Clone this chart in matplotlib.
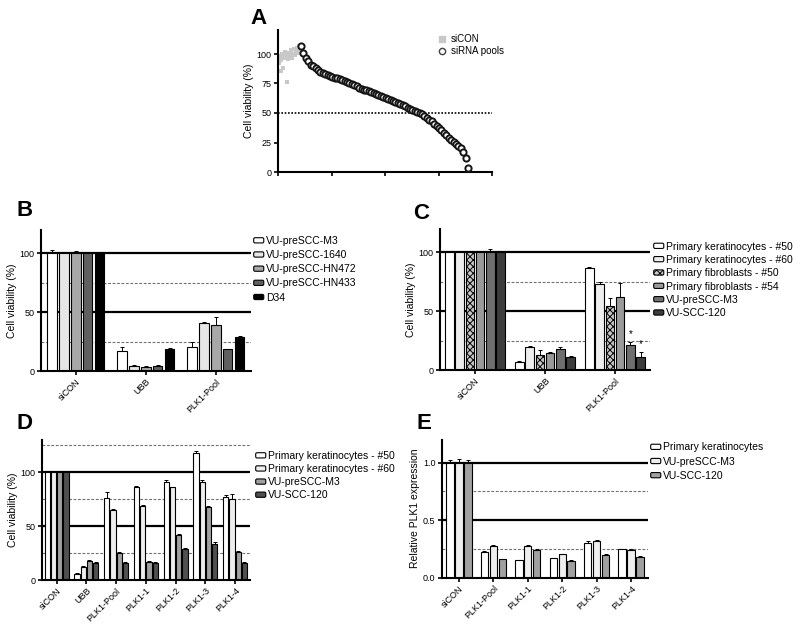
import numpy as np
import matplotlib
matplotlib.use("Agg")
import matplotlib.pyplot as plt
from matplotlib.patches import FancyBboxPatch, Patch
from matplotlib.lines import Line2D
from matplotlib.legend_handler import HandlerPatch

plt.rcParams['font.family'] = ['Liberation Sans', 'DejaVu Sans']
plt.rcParams['hatch.linewidth'] = 0.7

# ---------------- Panel A data ----------------
sicon_a_x = [0.8, 1.2, 1.6, 2.0, 2.4, 2.9, 3.3, 3.7, 4.1, 4.5, 5.0, 5.4, 5.8, 6.2, 6.6, 7.0, 7.4, 7.9, 8.3, 8.7, 9.1, 1.3, 0.5]
sicon_a_y = [98, 95, 100, 88, 97, 102, 99, 76, 96, 101, 98, 103, 97, 100, 104, 99, 102, 105, 101, 107, 103, 86, 92]
sirna_a_y = [107, 101, 97, 94, 91, 89.5, 88, 86.5, 85, 84,
             83, 82.3, 81.5, 80.6, 80, 79.3, 78.6, 78, 77.2, 76.3,
             75.3, 74.4, 73.5, 72.5, 71.4, 70.6, 69.9, 69.2, 68.5, 67.8,
             67, 66.2, 65.5, 64.7, 63.9, 63, 62.2, 61.4, 60.5, 59.7,
             58.8, 57.9, 56.8, 55.6, 54.4, 53.2, 52.3, 51.5, 50.8, 50,
             48.8, 47.4, 45.8, 44.3, 42.8, 41, 39, 37, 35.2, 33.3,
             31, 29, 27, 25.7, 24, 22, 20, 17, 12, 3.6]
sirna_a_start = 9.5

# ---------------- Panel B data ----------------
b_groups = ['siCON', 'UBB', 'PLK1-Pool']
b_series = ['VU-preSCC-M3', 'VU-preSCC-1640', 'VU-preSCC-HN472', 'VU-preSCC-HN433', 'D34']
b_vals = [[100, 17, 20.7], [100, 4.2, 40.5], [100, 3.4, 38.8], [100, 4.5, 18.4], [100, 18.4, 29]]
b_errs = [[3, 3, 4], [1, 0.5, 1], [2, 0.5, 7], [1, 0.5, 0.6], [0.5, 0.8, 0.6]]
b_colors = ['white', '#e6e6e6', '#a8a8a8', '#606060', 'black']

# ---------------- Panel C data ----------------
c_groups = ['siCON', 'UBB', 'PLK1-Pool']
c_series = ['Primary keratinocytes - #50', 'Primary keratinocytes - #60', 'Primary fibroblasts - #50',
            'Primary fibroblasts - #54', 'VU-preSCC-M3', 'VU-SCC-120']
c_vals = [[100, 7, 86.4], [100, 19.3, 72.8], [100, 12.7, 54.7], [100, 14.7, 62.3], [100, 17.6, 21.2], [100, 10.8, 11.3]]
c_errs = [[0.5, 1, 1], [0.5, 1.2, 2], [0.5, 4.3, 6.3], [1, 0.6, 11.4], [2.5, 2.2, 2.8], [0.5, 1.4, 3.7]]
c_colors = ['white', '#eeeeee', '#c8c8c8', '#9a9a9a', '#6e6e6e', '#3c3c3c']
c_hatches = [None, None, 'xxxxx', None, None, None]
c_stars = [(4, 2, 30.5), (5, 2, 22)]

# ---------------- Panel D data ----------------
d_groups = ['siCON', 'UBB', 'PLK1-Pool', 'PLK1-1', 'PLK1-2', 'PLK1-3', 'PLK1-4']
d_series = ['Primary keratinocytes - #50', 'Primary keratinocytes - #60', 'VU-preSCC-M3', 'VU-SCC-120']
d_vals = [[100, 5.6, 75.9, 86, 91, 117.6, 77.4],
          [100, 12.4, 65, 68.7, 86, 91.3, 75],
          [100, 17.6, 25.4, 17, 41.8, 67.5, 26.3],
          [100, 16, 15.5, 15.5, 28.8, 33.4, 16]]
d_errs = [[0.5, 0.8, 5.5, 1.2, 1.8, 2.5, 1.5],
          [0.5, 0.5, 1.2, 1, 0.6, 1.5, 4.5],
          [0.5, 1, 1, 1, 1, 1.2, 1],
          [0.5, 0.8, 1, 1, 1, 2.2, 0.6]]
d_colors = ['white', '#eeeeee', '#a0a0a0', '#505050']

# ---------------- Panel E data ----------------
e_groups = ['siCON', 'PLK1-Pool', 'PLK1-1', 'PLK1-2', 'PLK1-3', 'PLK1-4']
e_series = ['Primary keratinocytes', 'VU-preSCC-M3', 'VU-SCC-120']
e_vals = [[1.0, 0.226, 0.15, 0.168, 0.304, 0.246],
          [1.0, 0.278, 0.278, 0.205, 0.316, 0.243],
          [1.0, 0.16, 0.245, 0.145, 0.197, 0.183]]
e_errs = [[0.02, 0.01, 0.005, 0.005, 0.015, 0.005],
          [0.03, 0.005, 0.005, 0.005, 0.01, 0.005],
          [0.02, 0.005, 0.005, 0.005, 0.005, 0.005]]
e_colors = ['white', '#eeeeee', '#a0a0a0']


class RoundHandler(HandlerPatch):
    def create_artists(self, legend, orig_handle, xdescent, ydescent, width, height, fontsize, trans):
        p = FancyBboxPatch((-xdescent + 0.5, -ydescent + 0.5), width - 1, height - 1,
                           boxstyle="round,pad=0,rounding_size=1.0",
                           facecolor=orig_handle.get_facecolor(), edgecolor='black',
                           lw=0.8, hatch=orig_handle.get_hatch())
        p.set_transform(trans)
        return [p]


TICK_FS = 6.5
LAB_FS = 7.5
LEG_FS = 7.5
fig = plt.figure(figsize=(8, 6.31), dpi=100)
W, H = 800.0, 631.0


def make_ax(left, right, bottom, top):
    ax = fig.add_axes([left / W, 1 - bottom / H, (right - left) / W, (bottom - top) / H])
    for s in ['top', 'right']:
        ax.spines[s].set_visible(False)
    for s in ['left', 'bottom']:
        ax.spines[s].set_linewidth(1.5)
    ax.tick_params(axis='both', width=1.2, length=3, labelsize=TICK_FS, pad=1.5)
    return ax


def ref_lines(ax, solid, dashed):
    for v in solid:
        ax.axhline(v, color='black', lw=1.6, zorder=0.5)
    for v in dashed:
        ax.axhline(v, color='#707070', lw=0.8, ls=(0, (2.5, 1.5)), zorder=0.5)


def bars(ax, groups, vals, errs, colors, span, hatches=None):
    n = len(vals)
    slot = span / n
    x = np.arange(len(groups))
    for i in range(n):
        xi = x - span / 2 + slot * (i + 0.5)
        h = hatches[i] if hatches else None
        ax.bar(xi, vals[i], width=slot * 0.82, color=colors[i], edgecolor='black', lw=0.8,
               hatch=h, zorder=2)
        ax.errorbar(xi, vals[i], yerr=[np.zeros(len(groups)), errs[i]], fmt='none',
                    ecolor='black', elinewidth=0.7, capsize=1.2, capthick=0.7, zorder=3)
    ax.set_xlim(-0.5, len(groups) - 0.5)
    ax.set_xticks(x)
    ax.set_xticklabels(groups, rotation=45, ha='right', rotation_mode='anchor', fontsize=TICK_FS)
    return slot


def legend(ax, series, colors, anchor_px, spacing, hatches=None):
    handles = [Patch(facecolor=colors[i], edgecolor='black',
                     hatch=(hatches[i] if hatches else None)) for i in range(len(series))]
    fig.legend(handles, series, loc='upper left',
               bbox_to_anchor=(anchor_px[0] / W, 1 - anchor_px[1] / H),
               frameon=False, fontsize=LEG_FS, handlelength=1.1, handleheight=0.6,
               handletextpad=0.15, labelspacing=spacing, borderpad=0, borderaxespad=0,
               handler_map={Patch: RoundHandler()})


# ---------------- Panel A ----------------
axA = make_ax(278, 492, 172, 30.4)
axA.axhline(50, color='black', lw=1.2, ls=(0, (1, 1)), zorder=1)
axA.scatter(sicon_a_x, sicon_a_y, marker='s', s=10, color='#c8c8c8', lw=0, zorder=2)
sirna_x = sirna_a_start + np.arange(len(sirna_a_y))
axA.scatter(sirna_x, sirna_a_y, marker='o', s=20, facecolor='white', edgecolor='#151515', lw=1.4, zorder=3)
axA.set_xlim(0, 88.4)
axA.set_ylim(0, 120)
axA.set_yticks([0, 25, 50, 75, 100])
axA.set_xticks(np.linspace(0, 88.4, 5))
axA.set_xticklabels([])
axA.set_ylabel('Cell viability (%)', fontsize=LAB_FS, labelpad=2)
hA = [Line2D([], [], marker='s', ls='none', color='#c8c8c8', markersize=4),
      Line2D([], [], marker='o', ls='none', markerfacecolor='white', markeredgecolor='#404040', markersize=4.5)]
fig.legend(hA, ['siCON', 'siRNA pools'], loc='upper left', bbox_to_anchor=(437 / W, 1 - 34 / H),
           frameon=False, fontsize=7, handlelength=1.0, handletextpad=0.4, labelspacing=0.25,
           borderpad=0, borderaxespad=0)

# ---------------- Panel B ----------------
axB = make_ax(40.7, 250.7, 371, 229.8)
ref_lines(axB, [100, 50], [75, 25])
bars(axB, b_groups, b_vals, b_errs, b_colors, 0.85)
axB.set_ylim(0, 120)
axB.set_yticks([0, 50, 100])
axB.set_ylabel('Cell viability (%)', fontsize=LAB_FS, labelpad=2)
legend(axB, b_series, b_colors, (253, 236), 0.4)

# ---------------- Panel C ----------------
axC = make_ax(440, 650, 370, 228.6)
ref_lines(axC, [100, 50], [75, 25])
slotC = bars(axC, c_groups, c_vals, c_errs, c_colors, 0.88, hatches=c_hatches)
for si, gi, yv in c_stars:
    xs = gi - 0.88 / 2 + slotC * (si + 0.5)
    axC.text(xs, yv, '*', ha='center', va='center', fontsize=7)
axC.set_ylim(0, 120)
axC.set_yticks([0, 50, 100])
axC.set_ylabel('Cell viability (%)', fontsize=LAB_FS, labelpad=2)
legend(axC, c_series, c_colors, (653, 241.5), 0.32, hatches=c_hatches)

# ---------------- Panel D ----------------
axD = make_ax(41.7, 250, 580, 440)
ref_lines(axD, [100, 50], [125, 75, 25])
bars(axD, d_groups, d_vals, d_errs, d_colors, 0.84)
axD.set_ylim(0, 130)
axD.set_yticks([0, 50, 100])
axD.set_ylabel('Cell viability (%)', fontsize=LAB_FS, labelpad=2)
legend(axD, d_series, d_colors, (255, 451), 0.3)

# ---------------- Panel E ----------------
axE = make_ax(441.7, 648.3, 577.7, 439.7)
ref_lines(axE, [1.0, 0.5], [0.75, 0.25])
bars(axE, e_groups, e_vals, e_errs, e_colors, 0.78)
axE.set_ylim(0, 1.2)
axE.set_yticks([0, 0.5, 1.0])
axE.set_yticklabels(['0.0', '0.5', '1.0'])
axE.set_ylabel('Relative PLK1 expression', fontsize=LAB_FS, labelpad=2)
legend(axE, e_series, e_colors, (650, 442.5), 0.4)

# ---------------- Panel letters ----------------
for letter, (px, py) in {'A': (250, 8), 'B': (17, 200), 'C': (413, 203), 'D': (17, 413), 'E': (417, 413)}.items():
    fig.text(px / W, 1 - py / H, letter, fontsize=16, fontweight='bold', ha='left', va='top')

fig.savefig('out.png', dpi=100)
